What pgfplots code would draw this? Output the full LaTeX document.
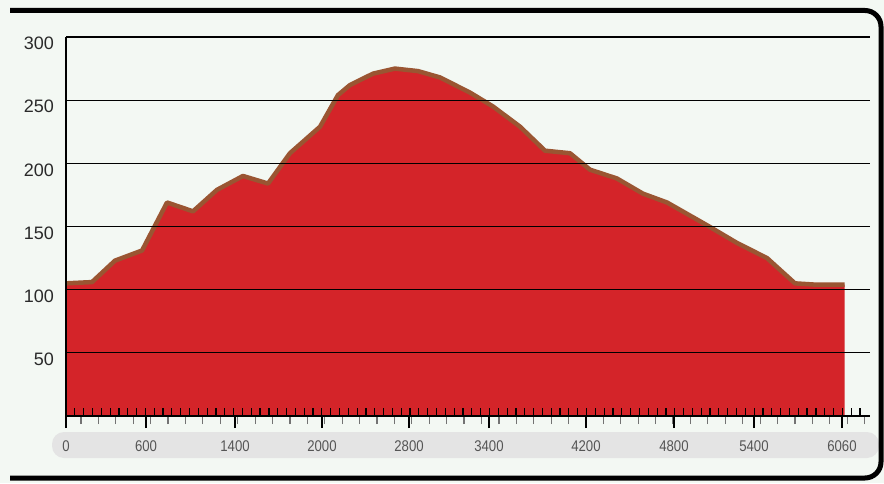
\documentclass[border=0pt]{standalone}
\usepackage{pgfplots}
\pgfplotsset{compat=1.18}
\usepackage{pgfplotstable}
\usepackage{fontspec}
\setmainfont{Liberation Sans}

\definecolor{bg}{HTML}{F3F8F3}
\definecolor{band}{HTML}{E4E4E4}
\definecolor{profilered}{HTML}{D42429}
\definecolor{profilebrown}{HTML}{9A5532}
\definecolor{ylab}{HTML}{2A2A2A}
\definecolor{xlab}{HTML}{555555}

% distance (m) / elevation (m)
\pgfplotstableread{
dist elev
0    105
203  106
383  123
594  131
789  169
992  162
1179 179
1382 190
1578 184
1749 208
1984 229
2124 254
2218 262
2398 271
2569 275
2749 273
2921 268
3155 256
3335 245
3546 229
3741 210
3936 208
4092 195
4303 188
4506 176
4694 169
5006 151
5240 137
5475 125
5693 105
5850 104
6080 104
}\profile

\begin{document}
\begin{tikzpicture}[x=1pt,y=1pt]
\useasboundingbox (0,0) rectangle (884,483);
\fill[bg] (0,0) rectangle (884,483);
\fill[band, rounded corners=12pt] (52,25) rectangle (879,51);
\draw[line width=5pt, rounded corners=16pt] (10,472.5) -- (881,472.5) -- (881,5) -- (10,5);

\begin{axis}[
    at={(66pt,67pt)}, anchor=south west,
    width=804pt, height=379pt, scale only axis,
    xmin=0, xmax=6279, ymin=0, ymax=300,
    axis x line=bottom, axis y line=left,
    axis line style={-, line width=1.3pt},
    axis on top,
    tick align=outside,
    /pgf/number format/assume math mode=true,
    xtick={0,625,1320,1999,2679,3303,4061,4748,5373,6060},
    xticklabels={0,600,1400,2000,2800,3400,4200,4800,5400,6060},
    minor xtick={117,253,...,6200},
    major tick length=12pt, minor tick length=8pt,
    every major tick/.append style={line width=1.5pt, black},
    every minor tick/.append style={line width=1.2pt, black!55},
    ytick={50,100,...,300},
    ymajorgrids,
    grid style={black, line width=1.2pt},
    y tick style={draw=none},
    yticklabel style={font=\fontsize{18}{18}\selectfont, text=ylab,
        anchor=north east, inner sep=0pt, xshift=0pt},
    xticklabel style={font=\fontsize{15.5}{16}\selectfont, text=xlab,
        xscale=0.85, anchor=center, yshift=-18pt},
]
\addplot[fill=profilered, draw=none] table[x=dist, y=elev] {\profile} \closedcycle;
\addplot[profilebrown, line width=4.5pt, line join=round] table[x=dist, y=elev] {\profile};
\end{axis}

% short upward ticks along the baseline
\begin{axis}[
    at={(66pt,67pt)}, anchor=south west,
    width=804pt, height=379pt, scale only axis,
    xmin=0, xmax=6279, ymin=0, ymax=300,
    axis x line=bottom, axis y line=none,
    axis line style={-, line width=1.3pt},
    tick align=inside,
    xtick={68.9,137.8,...,6210},
    xticklabels={},
    major tick length=8pt,
    every major tick/.append style={line width=1.2pt, black},
]
\end{axis}
\end{tikzpicture}
\end{document}
